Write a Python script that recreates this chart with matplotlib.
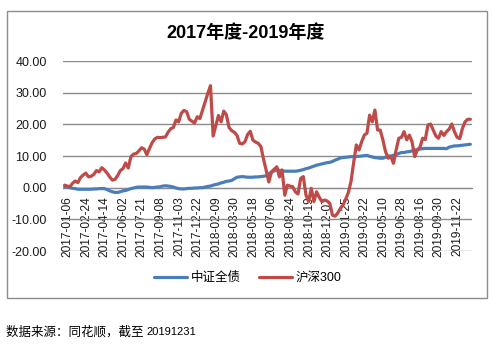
import matplotlib
matplotlib.use("Agg")
import matplotlib.pyplot as plt
import matplotlib.patches as mpatches
import matplotlib.transforms as mtransforms

plt.rcParams['font.family'] = ['Liberation Sans', 'Noto Sans CJK SC', 'DejaVu Sans']

title = "2017年度-2019年度"
series_names = ["中证全债", "沪深300"]
tick_labels = ["2017-01-06", "2017-02-24", "2017-04-14", "2017-06-02", "2017-07-21",
               "2017-09-08", "2017-11-03", "2017-12-22", "2018-02-09", "2018-03-30",
               "2018-05-18", "2018-07-06", "2018-08-24", "2018-10-19", "2018-12-07",
               "2019-01-25", "2019-03-22", "2019-05-10", "2019-06-28", "2019-08-16",
               "2019-09-30", "2019-11-22"]
tick_step = 7
footer = "数据来源：同花顺，截至 "
footer_date = "20191231"

hs300 = [0.8, 0.5, 0.3, 1.4, 2.1, 1.6, 3.2, 4.0, 4.6, 3.4,
         3.6, 4.2, 5.4, 5.0, 6.3, 5.6, 4.6, 3.4, 2.4, 2.6,
         3.8, 5.4, 6.0, 7.8, 6.2, 9.8, 10.6, 10.8, 11.6, 12.6,
         12.2, 10.4, 12.4, 14.2, 15.4, 15.9, 15.8, 15.9, 16.0, 17.5,
         18.6, 19.0, 21.4, 20.8, 23.5, 24.4, 24.0, 21.6, 21.0, 20.4,
         22.4, 21.8, 24.5, 27.2, 29.8, 32.2, 16.3, 19.5, 22.8, 20.8,
         24.2, 23.0, 19.0, 18.0, 17.5, 16.5, 14.0, 13.8, 14.5, 16.8,
         17.8, 15.0, 14.4, 14.0, 13.0, 9.0, 5.5, 1.8, 5.0, 5.8,
         6.6, 3.4, 5.6, -2.4, 0.8, 0.5, 0.3, -1.3, -2.0, 2.9,
         3.5, -2.3, -4.4, -0.2, -4.4, -1.3, -3.0, -4.4, -3.9, -4.2,
         -5.0, -8.7, -9.0, -8.0, -6.5, -5.5, -3.6, -1.5, 2.0, 8.0,
         13.5, 11.9, 14.5, 16.6, 17.2, 22.9, 20.8, 24.5, 18.2, 18.2,
         15.1, 11.4, 9.3, 9.8, 7.7, 11.9, 15.6, 15.9, 17.7, 15.1,
         16.6, 14.5, 9.8, 11.9, 12.8, 15.6, 15.2, 19.8, 20.1, 18.2,
         16.3, 15.6, 17.7, 16.5, 17.7, 18.5, 20.1, 17.7, 15.9, 15.5,
         18.7, 20.8, 21.6, 21.6]

bond = [0.3, 0.2, 0.0, -0.2, -0.3, -0.5, -0.5, -0.5, -0.5, -0.5,
        -0.5, -0.4, -0.4, -0.3, -0.3, -0.3, -0.6, -1.0, -1.3, -1.5,
        -1.5, -1.3, -1.0, -0.9, -0.6, -0.3, -0.1, 0.1, 0.2, 0.2,
        0.2, 0.2, 0.1, 0.0, 0.1, 0.2, 0.3, 0.5, 0.6, 0.5,
        0.4, 0.2, -0.1, -0.3, -0.4, -0.4, -0.3, -0.2, -0.2, -0.1,
        -0.1, 0.0, 0.0, 0.2, 0.4, 0.5, 0.8, 1.0, 1.2, 1.5,
        1.7, 2.0, 2.1, 2.3, 2.8, 3.3, 3.4, 3.5, 3.4, 3.3,
        3.3, 3.3, 3.4, 3.4, 3.5, 3.6, 3.8, 4.4, 4.9, 5.3,
        5.6, 5.5, 5.3, 5.2, 5.2, 5.2, 5.2, 5.2, 5.3, 5.5,
        5.7, 6.0, 6.2, 6.5, 6.8, 7.1, 7.3, 7.5, 7.7, 7.9,
        8.0, 8.3, 8.7, 9.0, 9.4, 9.5, 9.6, 9.7, 9.8, 9.8,
        9.8, 9.9, 10.0, 10.1, 10.2, 9.9, 9.7, 9.5, 9.4, 9.3,
        9.3, 9.6, 10.0, 10.0, 10.2, 10.4, 10.8, 11.1, 11.1, 11.3,
        11.4, 11.6, 11.9, 12.0, 12.2, 12.3, 12.4, 12.4, 12.4, 12.4,
        12.4, 12.4, 12.4, 12.4, 12.3, 12.8, 13.0, 13.2, 13.2, 13.3,
        13.4, 13.5, 13.6, 13.7]

y_ticks = [-20, -10, 0, 10, 20, 30, 40]

W, H = 493, 350
fig = plt.figure(figsize=(W / 100, H / 100), dpi=100)
fig.patch.set_facecolor('white')

# chart border
fig.patches.append(mpatches.Rectangle((6.5 / W, 1 - 298 / H), (487 - 6.5) / W, (298 - 10.5) / H,
                                      transform=fig.transFigure, fill=False,
                                      edgecolor='#8c8c8c', linewidth=1.0))

ax = fig.add_axes([63.3 / W, 1 - 251 / H, (471.7 - 63.3) / W, (251 - 61) / H])
ax.spines['bottom'].set_position(('data', 0))
ax.spines['bottom'].set_color('#8c8c8c')
for s in ['left', 'right', 'top']:
    ax.spines[s].set_visible(False)

n = len(hs300)
x = list(range(n))
ax.plot(x, bond, color='#4a7ebb', linewidth=2.3, label=series_names[0], solid_capstyle='round', zorder=3)
ax.plot(x, hs300, color='#be4b48', linewidth=2.3, label=series_names[1], solid_capstyle='round', zorder=4)

ax.set_xlim(-0.5, n - 0.5)
ax.set_ylim(-20, 40)
ax.set_yticks(y_ticks)
ax.set_yticklabels([f"{v:.2f}" for v in y_ticks], fontsize=9, color='#1a1a1a')
ax.yaxis.grid(True, color='#8c8c8c', linewidth=1.0)
ax.set_axisbelow(True)
ax.tick_params(axis='y', length=0, pad=12)

ax.set_xticks([i * tick_step for i in range(len(tick_labels))])
ax.set_xticklabels(tick_labels, fontsize=8.6, color='#1a1a1a')
ax.tick_params(axis='x', length=0, pad=6, labelrotation=90)
offset = mtransforms.ScaledTranslation(3 / 100, 0, fig.dpi_scale_trans)
for lab in ax.get_xticklabels():
    lab.set_transform(lab.get_transform() + offset)

fig.text(246 / W, 1 - 33 / H, title, ha='center', va='center', fontsize=13, fontweight='bold',
         family=['Liberation Sans', 'Noto Sans CJK SC'])

fig.legend(loc='center', bbox_to_anchor=(248 / W, 1 - 278 / H), ncol=2, frameon=False,
           handlelength=2.6, handletextpad=0.3, columnspacing=1.5,
           prop={'family': ['Liberation Sans', 'Noto Sans CJK SC'], 'size': 9})

t = fig.text(6 / W, 1 - 332 / H, footer, ha='left', va='center', fontsize=9,
             family=['Noto Sans CJK SC', 'DejaVu Sans'])
fig.canvas.draw()
bb = t.get_window_extent()
fig.text(bb.x1 / W, 1 - 332 / H, footer_date, ha='left', va='center', fontsize=8,
         family=['Liberation Sans'])

fig.savefig('out.png', dpi=100, facecolor='white')
